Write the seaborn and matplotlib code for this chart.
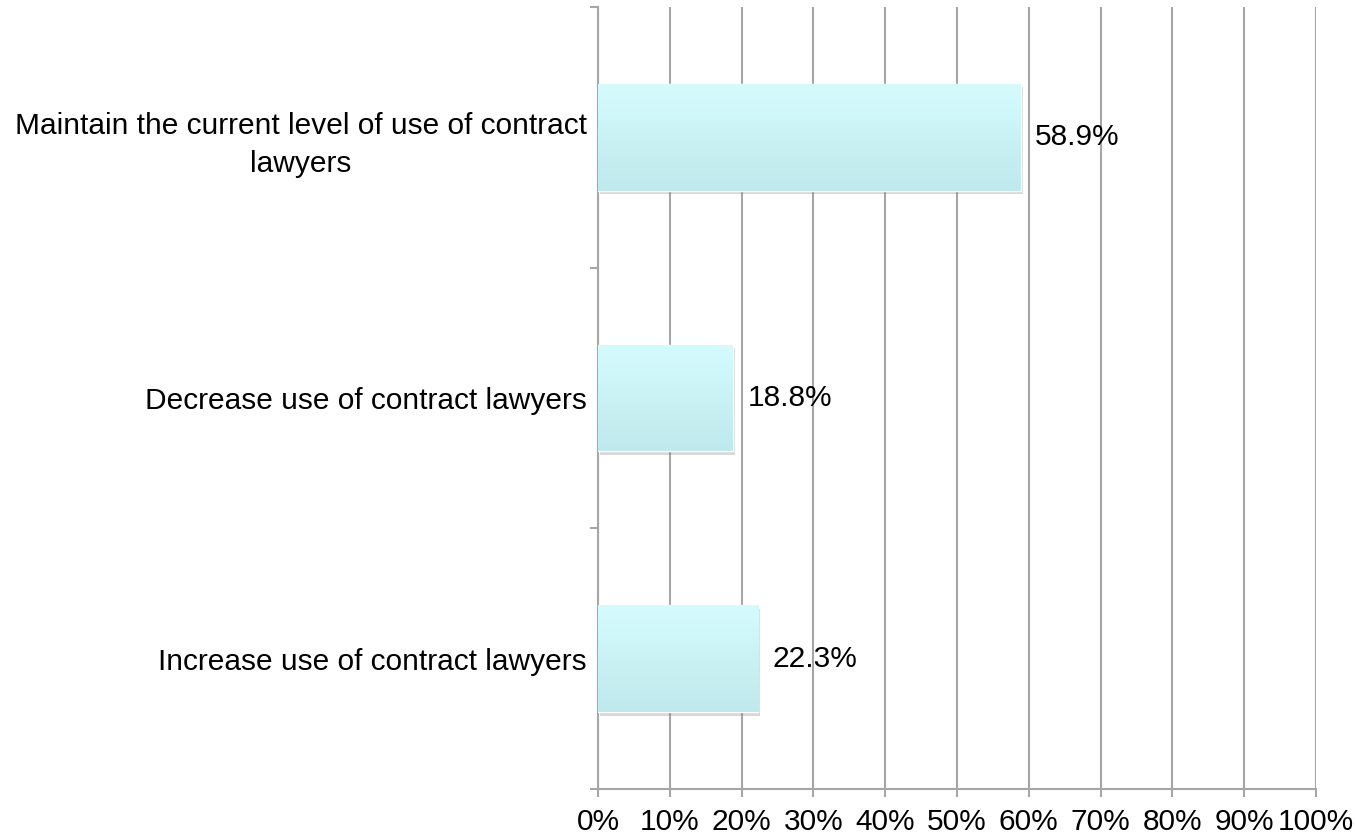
import numpy as np
import pandas as pd
import seaborn as sns
import matplotlib.pyplot as plt
from matplotlib import patheffects as pe
from matplotlib.ticker import FixedLocator, FuncFormatter

categories = ["Maintain the current level of use of contract\nlawyers",
              "Decrease use of contract lawyers",
              "Increase use of contract lawyers"]
values = [58.9, 18.8, 22.3]
labels = ["58.9%", "18.8%", "22.3%"]

df = pd.DataFrame({"answer": categories, "pct": values})

sns.set_style("white")
plt.rcParams['font.family'] = ['Liberation Sans', 'DejaVu Sans']

grey = "#a6a6a6"
fsize = 21.5
fig = plt.figure(figsize=(13.55, 8.38), dpi=100)
ax = fig.add_axes([0.4413, 0.0585, 0.5299, 0.9331])

sns.barplot(data=df, x="pct", y="answer", orient="h", color="#c8f2f5",
            width=0.41, ax=ax, zorder=3)

# gradient fill + soft shadow on each bar
grad = np.linspace(0, 1, 256).reshape(-1, 1)
top_c = np.array([0.835, 0.984, 0.992])
bot_c = np.array([0.752, 0.914, 0.929])
img = top_c + (bot_c - top_c) * grad[:, :, None]
for p in ax.patches:
    x0, y0 = p.get_x(), p.get_y()
    w, h = p.get_width(), p.get_height()
    p.set_path_effects([pe.SimplePatchShadow(offset=(1.5, -2.5), alpha=0.3, shadow_rgbFace="#808080"),
                        pe.Normal()])
    im = ax.imshow(img, extent=(x0, x0 + w, y0 + h, y0), aspect="auto", zorder=4,
                   interpolation="bilinear")
    im.set_clip_path(p)

for i, (v, t) in enumerate(zip(values, labels)):
    ax.text(v + 2.0, i, t, va="center", ha="left", fontsize=fsize, color="black", zorder=5)

ax.set_xlim(0, 100)
ax.set_ylim(2.5, -0.5)
ax.set_xticks(np.arange(0, 101, 10))
ax.xaxis.set_major_formatter(FuncFormatter(lambda v, _: f"{int(v)}%"))
ax.tick_params(axis="x", bottom=True, length=6, width=1.5, color=grey,
               labelsize=fsize, labelcolor="black", pad=8)
ax.tick_params(axis="y", which="major", left=False, length=0, labelsize=fsize,
               labelcolor="black", pad=8)
ax.yaxis.set_minor_locator(FixedLocator([-0.5, 0.5, 1.5, 2.5]))
ax.tick_params(axis="y", which="minor", left=True, length=6, width=1.5, color=grey)
for lab in ax.get_yticklabels():
    lab.set_multialignment("center")
    lab.set_linespacing(1.45)

ax.grid(axis="x", color=grey, linewidth=1.5, zorder=0)
ax.set_axisbelow(True)
for s in ["top", "right"]:
    ax.spines[s].set_visible(False)
for s in ["left", "bottom"]:
    ax.spines[s].set_color(grey)
    ax.spines[s].set_linewidth(1.5)
ax.set_xlabel("")
ax.set_ylabel("")

fig.savefig("out.png", dpi=100)
